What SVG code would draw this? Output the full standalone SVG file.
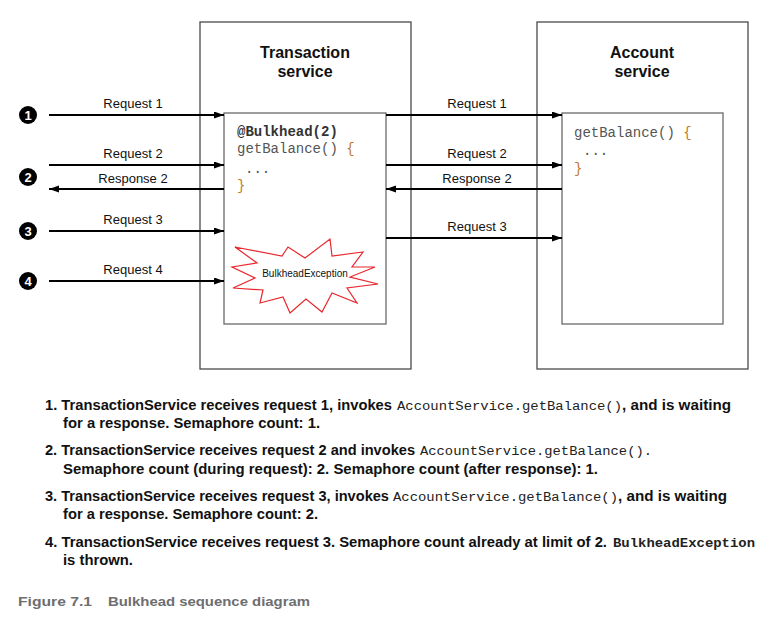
<svg xmlns="http://www.w3.org/2000/svg" width="774" height="627" viewBox="0 0 774 627">
<style>
.outer{fill:#fff;stroke:#4a4a4a;stroke-width:1.3}
.inner{fill:#fff;stroke:#6a6a6a;stroke-width:1.3}
.title{font-family:"Liberation Sans",Arial,sans-serif;font-weight:bold;font-size:16px;fill:#111;text-anchor:middle}
.lbl{font-family:"Liberation Sans",Arial,sans-serif;font-size:13px;fill:#111;text-anchor:middle}
.code{font-family:"Liberation Mono","Courier New",monospace;font-size:14px;fill:#555}
.codeb{font-family:"Liberation Mono","Courier New",monospace;font-size:14px;font-weight:bold;fill:#333}
.brace{fill:#c0792a}
.arr{stroke:#000;stroke-width:2;fill:none}
.num{fill:#000}
.numt{font-family:"Liberation Sans",Arial,sans-serif;font-weight:bold;font-size:13px;fill:#fff;text-anchor:middle}
.para{font-family:"Liberation Sans",Arial,sans-serif;font-weight:bold;font-size:15px;fill:#111}
.pmono{font-family:"Liberation Mono","Courier New",monospace;font-size:12px;fill:#222}
.pmonob{font-family:"Liberation Mono","Courier New",monospace;font-size:12px;font-weight:bold;fill:#222}
.cap{font-family:"Liberation Sans",Arial,sans-serif;font-weight:bold;font-size:13px;fill:#6d6e70}
.burst{fill:#fff;stroke:#e8262c;stroke-width:1.2}
.bex{font-family:"Liberation Sans",Arial,sans-serif;font-size:10px;fill:#111;text-anchor:middle}
</style>
<defs>
<marker id="ah" markerUnits="userSpaceOnUse" markerWidth="11" markerHeight="8" refX="10" refY="3.5" orient="auto">
<path d="M0,0 L10,3.5 L0,7 z" fill="#000"/>
</marker>
</defs>
<rect width="774" height="627" fill="#fff"/>

<g id="transaction-service">
<rect class="outer" x="200" y="22" width="211" height="347"/>
<text class="title" x="305" y="58">Transaction</text>
<text class="title" x="305" y="77">service</text>
<rect class="inner" x="224" y="113" width="162" height="211"/>
<text class="codeb" x="237" y="136">@Bulkhead(2)</text>
<text class="code" x="237" y="153">getBalance() <tspan class="brace">{</tspan></text>
<text class="code" x="245" y="173">...</text>
<text class="code brace" x="237" y="190">}</text>
</g>

<g id="bulkhead-exception">
<polygon class="burst" points="235,247 282,256 288,247 305,258 330,239 332,256 363,252 352,267 375,267 350,277 378,284 347,288 357,303 332,293 322,312 306,299 290,313 283,297 260,303 263,290 233,288 255,278 232,267 257,263"/>
<text class="bex" x="305" y="277">BulkheadException</text>
</g>

<g id="account-service">
<rect class="outer" x="537" y="22" width="211" height="347"/>
<text class="title" x="642" y="58">Account</text>
<text class="title" x="642" y="77">service</text>
<rect class="inner" x="562" y="113" width="161" height="211"/>
<text class="code" x="574" y="137">getBalance() <tspan class="brace">{</tspan></text>
<text class="code" x="583" y="155">...</text>
<text class="code brace" x="574" y="173">}</text>
</g>

<g id="step-markers">
<g id="step1"><circle class="num" cx="28" cy="115" r="9"/><text class="numt" x="28" y="120">1</text></g>
<g id="step2"><circle class="num" cx="28" cy="177" r="9"/><text class="numt" x="28" y="182">2</text></g>
<g id="step3"><circle class="num" cx="28" cy="231" r="9"/><text class="numt" x="28" y="236">3</text></g>
<g id="step4"><circle class="num" cx="28" cy="281" r="9"/><text class="numt" x="28" y="286">4</text></g>
</g>

<g id="connectors">
<line class="arr" x1="49" y1="115" x2="224" y2="115" marker-end="url(#ah)"/>
<line class="arr" x1="49" y1="165" x2="224" y2="165" marker-end="url(#ah)"/>
<line class="arr" x1="224" y1="189" x2="49" y2="189" marker-end="url(#ah)"/>
<line class="arr" x1="49" y1="231" x2="224" y2="231" marker-end="url(#ah)"/>
<line class="arr" x1="49" y1="281" x2="224" y2="281" marker-end="url(#ah)"/>
<line class="arr" x1="386" y1="115" x2="562" y2="115" marker-end="url(#ah)"/>
<line class="arr" x1="386" y1="165" x2="562" y2="165" marker-end="url(#ah)"/>
<line class="arr" x1="562" y1="189" x2="386" y2="189" marker-end="url(#ah)"/>
<line class="arr" x1="386" y1="238" x2="562" y2="238" marker-end="url(#ah)"/>
<text class="lbl" x="133" y="108">Request 1</text>
<text class="lbl" x="133" y="158">Request 2</text>
<text class="lbl" x="133" y="183">Response 2</text>
<text class="lbl" x="133" y="224">Request 3</text>
<text class="lbl" x="133" y="274">Request 4</text>
<text class="lbl" x="477" y="108">Request 1</text>
<text class="lbl" x="477" y="158">Request 2</text>
<text class="lbl" x="477" y="183">Response 2</text>
<text class="lbl" x="477" y="231">Request 3</text>
</g>

<g id="notes">
<text class="para" x="45" y="410" textLength="347" lengthAdjust="spacingAndGlyphs">1. TransactionService receives request 1, invokes</text>
<text class="pmono" x="397" y="410" textLength="225" lengthAdjust="spacingAndGlyphs">AccountService.getBalance()</text>
<text class="para" x="622" y="410" textLength="109" lengthAdjust="spacingAndGlyphs">, and is waiting</text>
<text class="para" x="63" y="428" textLength="257" lengthAdjust="spacingAndGlyphs">for a response. Semaphore count: 1.</text>

<text class="para" x="45" y="455" textLength="370" lengthAdjust="spacingAndGlyphs">2. TransactionService receives request 2 and invokes</text>
<text class="pmono" x="420" y="455" textLength="232" lengthAdjust="spacingAndGlyphs">AccountService.getBalance().</text>
<text class="para" x="63" y="474" textLength="535" lengthAdjust="spacingAndGlyphs">Semaphore count (during request): 2. Semaphore count (after response): 1.</text>

<text class="para" x="45" y="501" textLength="344" lengthAdjust="spacingAndGlyphs">3. TransactionService receives request 3, invokes</text>
<text class="pmono" x="393" y="501" textLength="225" lengthAdjust="spacingAndGlyphs">AccountService.getBalance()</text>
<text class="para" x="618" y="501" textLength="109" lengthAdjust="spacingAndGlyphs">, and is waiting</text>
<text class="para" x="63" y="519" textLength="255" lengthAdjust="spacingAndGlyphs">for a response. Semaphore count: 2.</text>

<text class="para" x="45" y="547" textLength="562" lengthAdjust="spacingAndGlyphs">4. TransactionService receives request 3. Semaphore count already at limit of 2.</text>
<text class="pmonob" x="613" y="547" textLength="142" lengthAdjust="spacingAndGlyphs">BulkheadException</text>
<text class="para" x="63" y="565" textLength="70" lengthAdjust="spacingAndGlyphs">is thrown.</text>
</g>

<g id="caption">
<text class="cap" x="18" y="606" textLength="74" lengthAdjust="spacingAndGlyphs">Figure 7.1</text>
<text class="cap" x="108" y="606" textLength="202" lengthAdjust="spacingAndGlyphs">Bulkhead sequence diagram</text>
</g>
</svg>
